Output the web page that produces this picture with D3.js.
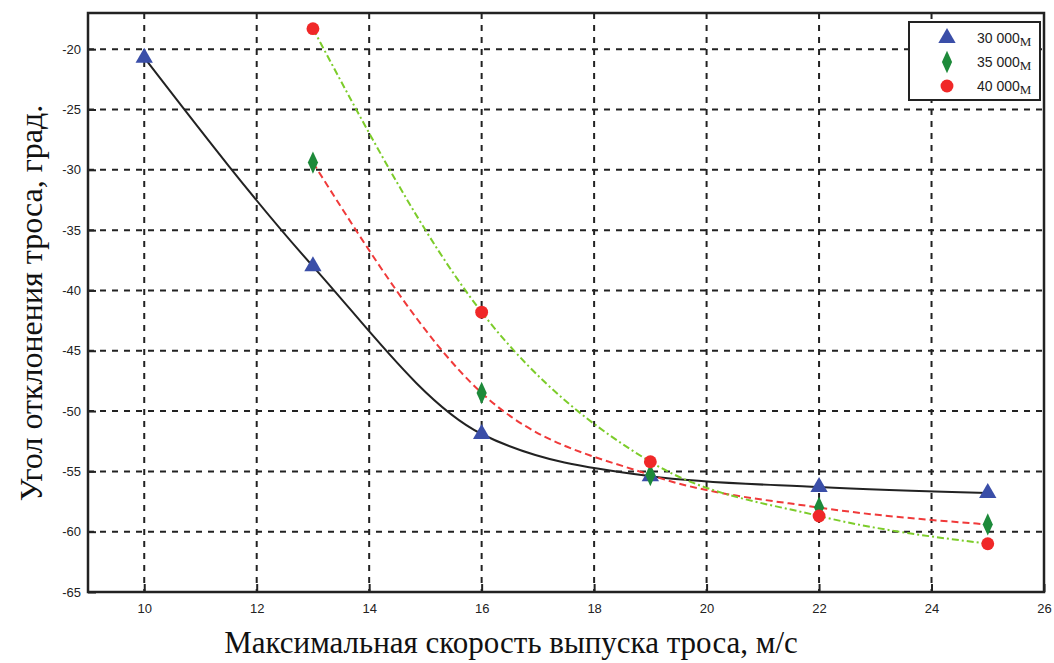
<!DOCTYPE html>
<html>
<head>
<meta charset="utf-8">
<script src="https://d3js.org/d3.v7.min.js"></script>
<style>
  body { margin: 0; background: #fff; }
</style>
</head>
<body>
<svg width="1054" height="663" id="mainSvg"></svg>
<script>
const xs = [10, 13, 16, 19, 22, 25];
const xs2 = [13, 16, 19, 22, 25];
// 30 000 m: blue triangles, black solid line
const alt30 = [-20.7, -38.0, -51.9, -55.4, -56.3, -56.8];
// 35 000 m: green diamonds (red dashed line passes through them)
const alt35 = [-29.4, -48.5, -55.3, -58.0, -59.4];
// 40 000 m: red dots (green dash-dot line passes through them)
const alt40 = [-18.3, -41.8, -54.2, -58.7, -61.0];
const xTicks = [10, 12, 14, 16, 18, 20, 22, 24, 26];
const yTicks = [-20, -25, -30, -35, -40, -45, -50, -55, -60, -65];
const legendLabels = ["30 000", "35 000", "40 000"];

const svg = d3.select("#mainSvg");
const margin = {top: 13, right: 10, bottom: 71, left: 88};
const innerWidth = 1054 - margin.left - margin.right;
const innerHeight = 663 - margin.top - margin.bottom;

const g = svg.append("g")
    .attr("transform", `translate(${margin.left}, ${margin.top})`);

const xScale = d3.scaleLinear().domain([9, 26]).range([0, innerWidth]);
const yScale = d3.scaleLinear().domain([-65, -17]).range([innerHeight, 0]);

// grid
g.selectAll(".vgrid").data(xTicks.filter(d => d < 26)).join("line")
    .attr("x1", d => xScale(d)).attr("x2", d => xScale(d))
    .attr("y1", 0).attr("y2", innerHeight)
    .attr("stroke", "#222").attr("stroke-width", 2).attr("stroke-dasharray", "6,6");
g.selectAll(".hgrid").data(yTicks.filter(d => d > -65)).join("line")
    .attr("x1", 0).attr("x2", innerWidth)
    .attr("y1", d => yScale(d)).attr("y2", d => yScale(d))
    .attr("stroke", "#222").attr("stroke-width", 2).attr("stroke-dasharray", "6,6");

// axes
const xAxis = d3.axisBottom(xScale).tickValues(xTicks).tickSize(-8).tickPadding(12).tickFormat(d3.format("d"));
const yAxis = d3.axisLeft(yScale).tickValues(yTicks).tickSize(-8).tickPadding(7).tickFormat(d => d);
const xg = g.append("g").attr("transform", `translate(0, ${innerHeight})`).call(xAxis);
const yg = g.append("g").call(yAxis);
[xg, yg].forEach(a => {
  a.select(".domain").remove();
  a.selectAll(".tick line").attr("stroke", "#222").attr("stroke-width", 2);
  a.selectAll(".tick text").attr("font-family", "Liberation Sans, Arial, sans-serif")
    .attr("font-size", 13).attr("fill", "#222");
});
g.append("rect").attr("width", innerWidth).attr("height", innerHeight)
    .attr("fill", "none").attr("stroke", "#222").attr("stroke-width", 2.5);

// curves
const line = d3.line().x(d => xScale(d[0])).y(d => yScale(d[1])).curve(d3.curveMonotoneX);
g.append("path").datum(xs.map((x, i) => [x, alt30[i]]))
    .attr("d", line).attr("fill", "none").attr("stroke", "#222").attr("stroke-width", 2);
g.append("path").datum(xs2.map((x, i) => [x, alt35[i]]))
    .attr("d", line).attr("fill", "none").attr("stroke", "#f03a3a").attr("stroke-width", 2)
    .attr("stroke-dasharray", "7,4");
g.append("path").datum(xs2.map((x, i) => [x, alt40[i]]))
    .attr("d", line).attr("fill", "none").attr("stroke", "#7ccc2a").attr("stroke-width", 2)
    .attr("stroke-dasharray", "7,3,2,3");

// markers
const tri = d3.symbol().type(d3.symbolTriangle).size(130);
const dia = d3.symbol().type(d3.symbolDiamond).size(100);
const cir = d3.symbol().type(d3.symbolCircle).size(130);
g.selectAll(".m30").data(xs.map((x, i) => [x, alt30[i]])).join("path")
    .attr("d", tri).attr("fill", "#3a4ea8")
    .attr("transform", d => `translate(${xScale(d[0])},${yScale(d[1])})`);
g.selectAll(".m35").data(xs2.map((x, i) => [x, alt35[i]])).join("path")
    .attr("d", dia).attr("fill", "#1d8a3a")
    .attr("transform", d => `translate(${xScale(d[0])},${yScale(d[1])}) scale(0.95,1.2)`);
g.selectAll(".m40").data(xs2.map((x, i) => [x, alt40[i]])).join("path")
    .attr("d", cir).attr("fill", "#f02828")
    .attr("transform", d => `translate(${xScale(d[0])},${yScale(d[1])})`);

// legend
const lg = svg.append("g").attr("transform", "translate(909, 22)");
lg.append("rect").attr("width", 131).attr("height", 78)
    .attr("fill", "#fff").attr("stroke", "#222").attr("stroke-width", 2);
const legendShapes = [
  {sym: tri, fill: "#3a4ea8", tf: ""},
  {sym: dia, fill: "#1d8a3a", tf: " scale(0.95,1.2)"},
  {sym: cir, fill: "#f02828", tf: ""}
];
legendLabels.forEach((lab, i) => {
  const y = 16 + i * 24;
  lg.append("path").attr("d", legendShapes[i].sym).attr("fill", legendShapes[i].fill)
      .attr("transform", `translate(38,${y})` + legendShapes[i].tf);
  const t = lg.append("text").attr("x", 68).attr("y", y + 5)
      .attr("font-family", "Liberation Sans, Arial, sans-serif").attr("font-size", 14).attr("fill", "#222");
  t.append("tspan").text(lab);
  t.append("tspan").attr("font-family", "Liberation Serif, Times New Roman, serif")
      .attr("font-size", 13).attr("dy", 3).text("М");
});

// axis titles
svg.append("text").attr("x", 511).attr("y", 653).attr("text-anchor", "middle")
    .attr("font-family", "Liberation Serif, Times New Roman, serif").attr("font-size", 31)
    .attr("fill", "#111").text("Максимальная скорость выпуска троса, м/с");
svg.append("text").attr("transform", "translate(42, 303) rotate(-90)").attr("text-anchor", "middle")
    .attr("font-family", "Liberation Serif, Times New Roman, serif").attr("font-size", 32)
    .attr("fill", "#111").text("Угол отклонения троса, град.");
</script>
</body>
</html>
